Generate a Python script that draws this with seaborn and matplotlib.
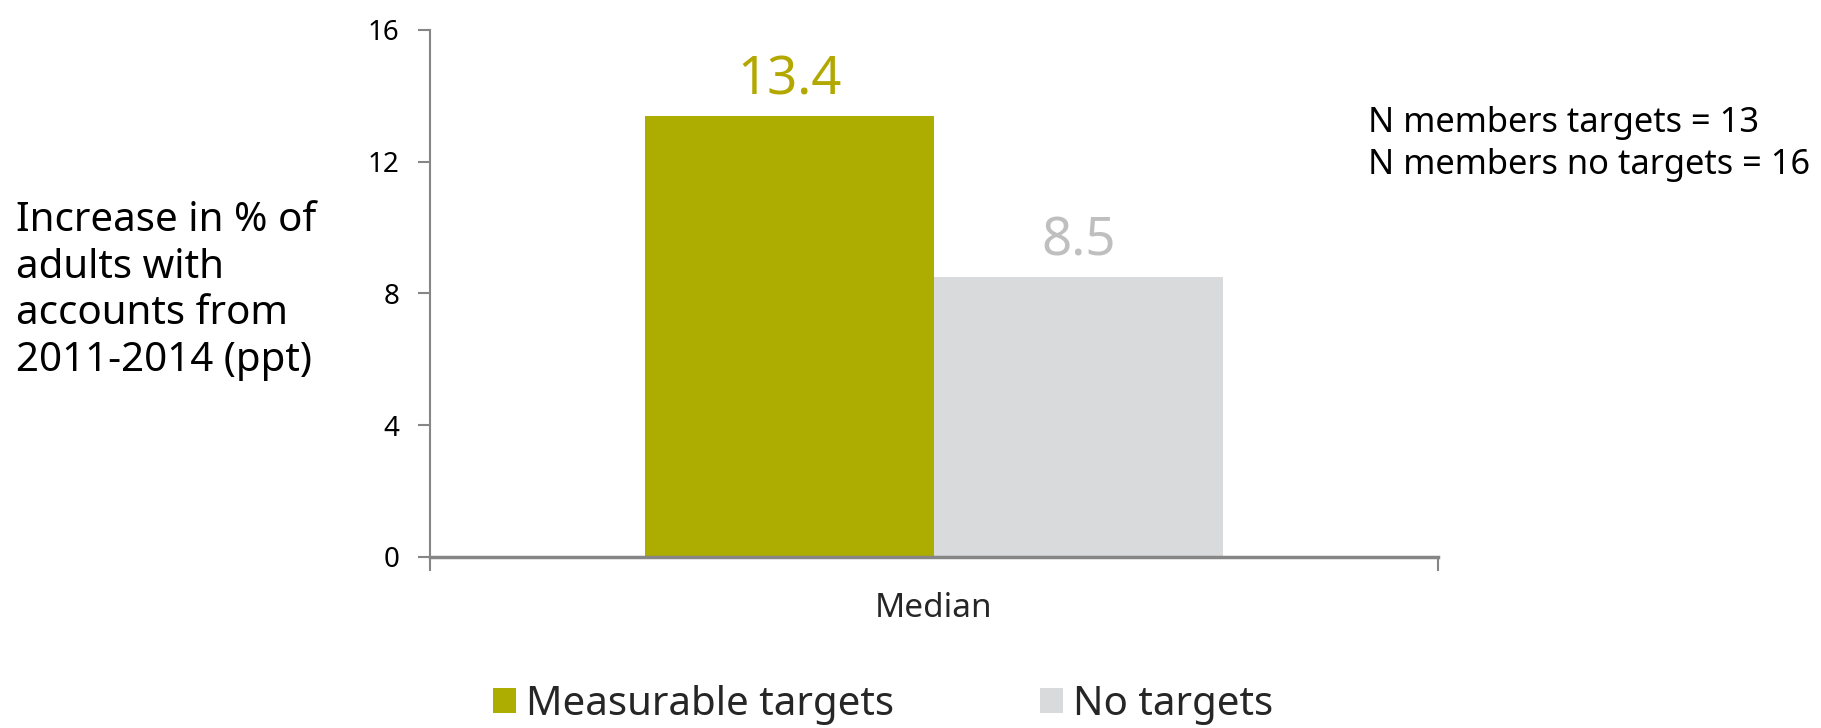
import matplotlib
matplotlib.use("Agg")
import matplotlib.pyplot as plt
import seaborn as sns
import pandas as pd

# Data
groups = ["Measurable targets", "No targets"]
category = ["Median", "Median"]
values = [13.4, 8.5]
value_labels = ["13.4", "8.5"]
y_ticks = [0, 4, 8, 12, 16]
note_lines = ["N members targets = 13", "N members no targets = 16"]
y_title = "Increase in % of\nadults with\naccounts from\n2011-2014 (ppt)"

bar_colors = ["#ADAC00", "#D9DADC"]
label_colors = ["#B3A800", "#BFBFBF"]
axis_color = "#868686"

sns.set_theme(style="white")
plt.rcParams["font.family"] = ["Noto Sans", "DejaVu Sans"]

df = pd.DataFrame({"stat": category, "group": groups, "value": values})

fig = plt.figure(figsize=(18.21, 7.28), dpi=100)
ax = fig.add_axes([0.2361, 0.2349, 0.5536, 0.7239])

sns.barplot(data=df, x="stat", y="value", hue="group", hue_order=groups,
            palette=bar_colors, width=0.573, gap=0, saturation=1,
            edgecolor="none", linewidth=0, ax=ax, legend=True)

for cont, lab, col in zip(ax.containers, value_labels, label_colors):
    ax.bar_label(cont, labels=[lab], padding=6, color=col, fontsize=38)

ax.set_xlim(-0.5, 0.5)
ax.set_ylim(0, 16)
ax.set_yticks(y_ticks)
ax.set_yticklabels([str(t) for t in y_ticks], fontsize=20, color="black")
ax.set_xticks([-0.5, 0.5])
ax.set_xticklabels(["", ""])
ax.set_xticks([0], minor=True)
ax.set_xticklabels(["Median"], minor=True, fontsize=24)
ax.tick_params(axis="x", which="major", direction="out", length=10,
               width=1.5, color=axis_color, bottom=True)
ax.tick_params(axis="x", which="minor", length=0, pad=25, bottom=True)
ax.tick_params(axis="y", direction="out", length=9, width=1.5,
               color=axis_color, left=True, pad=13)
ax.set_xlabel("")
ax.set_ylabel("")

for side in ["top", "right"]:
    ax.spines[side].set_visible(False)
ax.spines["left"].set_color(axis_color)
ax.spines["left"].set_linewidth(1.5)
ax.spines["bottom"].set_color(axis_color)
ax.spines["bottom"].set_linewidth(2.5)

handles, labels = ax.get_legend_handles_labels()
ax.get_legend().remove()
fig.legend(handles, labels, loc="center", bbox_to_anchor=(0.485, 0.032),
           ncol=2, frameon=False, fontsize=29, handlelength=0.57,
           handleheight=0.57, handletextpad=0.25, columnspacing=3.6)

fig.text(16 / 1821, 1 - 291 / 728, y_title, ha="left", va="center",
         fontsize=29, linespacing=1.22, color="black")
fig.text(1368 / 1821, 1 - 144 / 728, "\n".join(note_lines), ha="left",
         va="center", fontsize=24.8, linespacing=1.33, color="black")

fig.savefig("out.png", dpi=100)
